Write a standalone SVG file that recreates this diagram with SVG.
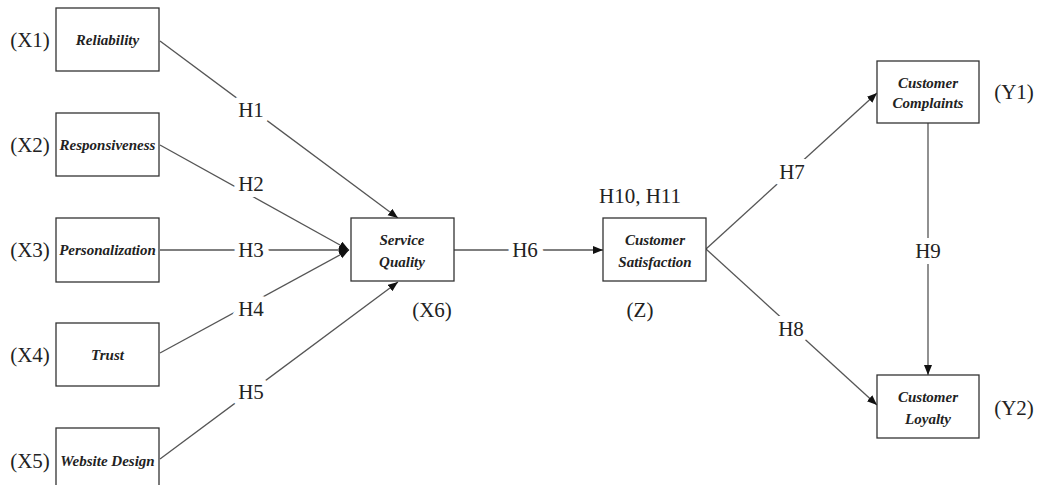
<svg xmlns="http://www.w3.org/2000/svg" width="1038" height="485" viewBox="0 0 1038 485">
  <defs>
    <marker id="arrow" markerUnits="userSpaceOnUse" markerWidth="12" markerHeight="10" refX="10" refY="4" orient="auto">
      <path d="M0,0 L10,4 L0,8 Z" fill="#111"/>
    </marker>
    <style>
      .box { fill: #fff; stroke: #333; stroke-width: 1.3; }
      .name { font-family: "Liberation Serif", "Times New Roman", serif; font-style: italic; font-weight: bold; font-size: 15px; fill: #222; text-anchor: middle; }
      .tag { font-family: "Liberation Serif", "Times New Roman", serif; font-size: 21px; fill: #222; text-anchor: middle; }
      .edge { stroke: #555; stroke-width: 1.3; fill: none; marker-end: url(#arrow); }
      .hyp { font-family: "Liberation Serif", "Times New Roman", serif; font-size: 21px; fill: #222; text-anchor: middle; stroke: #fff; stroke-width: 12; stroke-linejoin: round; paint-order: stroke; }
    </style>
  </defs>

  <rect width="1038" height="485" fill="#fff"/>

  <!-- paths between constructs -->
  <g id="connectors">
    <line class="edge" x1="160" y1="41" x2="398" y2="218"/>
    <line class="edge" x1="160" y1="145" x2="349" y2="250"/>
    <line class="edge" x1="160" y1="250" x2="349" y2="250"/>
    <line class="edge" x1="160" y1="353" x2="349" y2="250"/>
    <line class="edge" x1="160" y1="459" x2="398" y2="282"/>
    <line class="edge" x1="454" y1="250" x2="603" y2="250"/>
    <line class="edge" x1="706" y1="249" x2="877" y2="93"/>
    <line class="edge" x1="706" y1="249" x2="877" y2="405"/>
    <line class="edge" x1="928" y1="123" x2="928" y2="375"/>
    <text class="hyp" x="251" y="117">H1</text>
    <text class="hyp" x="251" y="191">H2</text>
    <text class="hyp" x="251" y="257">H3</text>
    <text class="hyp" x="251" y="316">H4</text>
    <text class="hyp" x="251" y="399">H5</text>
    <text class="hyp" x="525" y="257">H6</text>
    <text class="hyp" x="792" y="179">H7</text>
    <text class="hyp" x="791" y="336">H8</text>
    <text class="hyp" x="928" y="258">H9</text>
  </g>

  <g id="reliability">
    <rect class="box" x="56" y="8" width="103" height="63"/>
    <text class="name" x="107.5" y="45">Reliability</text>
    <text class="tag" x="30" y="47">(X1)</text>
  </g>
  <g id="responsiveness">
    <rect class="box" x="56" y="113" width="103" height="63"/>
    <text class="name" x="107.5" y="150">Responsiveness</text>
    <text class="tag" x="30" y="152">(X2)</text>
  </g>
  <g id="personalization">
    <rect class="box" x="56" y="218" width="103" height="64"/>
    <text class="name" x="107.5" y="255">Personalization</text>
    <text class="tag" x="30" y="257">(X3)</text>
  </g>
  <g id="trust">
    <rect class="box" x="56" y="323" width="103" height="63"/>
    <text class="name" x="107.5" y="360">Trust</text>
    <text class="tag" x="30" y="362">(X4)</text>
  </g>
  <g id="website-design">
    <rect class="box" x="56" y="428" width="103" height="63"/>
    <text class="name" x="107.5" y="466">Website Design</text>
    <text class="tag" x="30" y="468">(X5)</text>
  </g>

  <g id="service-quality">
    <rect class="box" x="351" y="218" width="103" height="63"/>
    <text class="name" x="402" y="245">Service</text>
    <text class="name" x="402" y="267">Quality</text>
    <text class="tag" x="432" y="317">(X6)</text>
  </g>

  <g id="customer-satisfaction">
    <rect class="box" x="603" y="218" width="103" height="63"/>
    <text class="name" x="655" y="245">Customer</text>
    <text class="name" x="655" y="267">Satisfaction</text>
    <text class="tag" x="640" y="203">H10, H11</text>
    <text class="tag" x="640" y="317">(Z)</text>
  </g>

  <g id="customer-complaints">
    <rect class="box" x="877" y="61" width="102" height="62"/>
    <text class="name" x="928" y="88">Customer</text>
    <text class="name" x="928" y="108">Complaints</text>
    <text class="tag" x="1014" y="99">(Y1)</text>
  </g>

  <g id="customer-loyalty">
    <rect class="box" x="877" y="375" width="102" height="63"/>
    <text class="name" x="928" y="402">Customer</text>
    <text class="name" x="928" y="424">Loyalty</text>
    <text class="tag" x="1014" y="415">(Y2)</text>
  </g>
</svg>
